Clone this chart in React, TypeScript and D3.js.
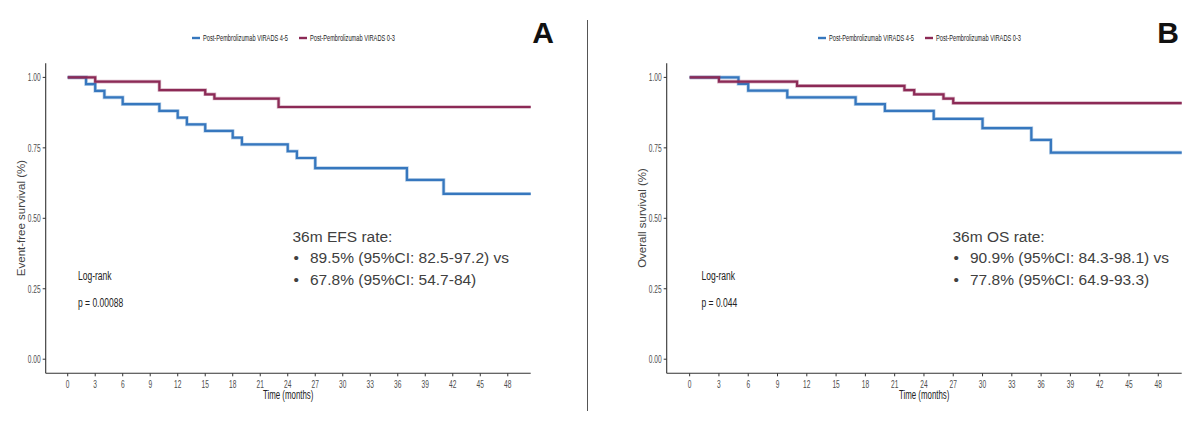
import React from "react";
import * as d3 from "d3";

// Kaplan-Meier estimates, step times in months
const efsHighTimes = [0, 2, 3, 4, 6, 10, 12, 13, 15, 18, 19, 24, 25, 27, 37, 41];
const efsHighSurv = [1, 0.976, 0.952, 0.929, 0.905, 0.881, 0.857, 0.833, 0.81, 0.786, 0.762, 0.738, 0.714, 0.678, 0.636, 0.587];
const efsLowTimes = [0, 3, 10, 15, 16, 23];
const efsLowSurv = [1, 0.985, 0.955, 0.94, 0.925, 0.895];

const osHighTimes = [0, 5, 6, 10, 17, 20, 25, 30, 35, 37];
const osHighSurv = [1, 0.977, 0.953, 0.929, 0.905, 0.881, 0.853, 0.82, 0.778, 0.733];
const osLowTimes = [0, 3, 11, 22, 23, 26, 27];
const osLowSurv = [1, 0.985, 0.97, 0.955, 0.94, 0.925, 0.909];

const xTicks = [0, 3, 6, 9, 12, 15, 18, 21, 24, 27, 30, 33, 36, 39, 42, 45, 48];
const yTicks = [0, 0.25, 0.5, 0.75, 1];

const seriesNames = ["Post-Pembrolizumab VIRADS 4-5", "Post-Pembrolizumab VIRADS 0-3"];
const seriesColors = ["#3677BE", "#8C2A56"];

const efsRates = ["89.5% (95%CI: 82.5-97.2) vs", "67.8% (95%CI: 54.7-84)"];
const osRates = ["90.9% (95%CI: 84.3-98.1) vs", "77.8% (95%CI: 64.9-93.3)"];

const SQ = 0.63; // horizontal squeeze of the exported plot text
const FONT = "'Liberation Sans', Arial, sans-serif";

function SqText({ x, y, size, anchor = "start", fill = "#333", children }: any) {
  return (
    <g transform={`translate(${x},${y}) scale(${SQ},1)`}>
      <text textAnchor={anchor} fontSize={size} fill={fill} fontFamily={FONT}>
        {children}
      </text>
    </g>
  );
}

function Panel({ xr, xd, letter, letterX, legendX, yTitle, high, low, pval, rateTitle, rates, noteX, logX }: any) {
  const x = d3.scaleLinear().domain(xd).range(xr);
  const y = d3.scaleLinear().domain([-0.05, 1.05]).range([373.3, 63.3]);
  const step = d3
    .line<[number, number]>()
    .x((d) => x(d[0]))
    .y((d) => y(d[1]))
    .curve(d3.curveStepAfter);

  const pts = (t: number[], s: number[]) => {
    const p: [number, number][] = t.map((v, i) => [v, s[i]]);
    p.push([xd[1], s[s.length - 1]]);
    return p;
  };

  const curves = [pts(high[0], high[1]), pts(low[0], low[1])];
  const x0 = xr[0];
  const mid = (xr[0] + xr[1]) / 2;

  return (
    <g>
      {/* legend */}
      {seriesNames.map((n, i) => {
        const lx = legendX + i * 107;
        return (
          <g key={n}>
            <line x1={lx} x2={lx + 8} y1={38} y2={38} stroke={seriesColors[i]} strokeWidth={2.4} />
            <SqText x={lx + 11} y={41} size={9} fill="#222">{n}</SqText>
          </g>
        );
      })}
      <text x={letterX} y={43} textAnchor="middle" fontSize={30} fontWeight="bold" fontFamily={FONT} fill="#111">
        {letter}
      </text>

      {/* axes */}
      <line x1={x0} x2={x0} y1={63.3} y2={373.3} stroke="#333" strokeWidth={1.1} />
      <line x1={x0} x2={xr[1]} y1={373.3} y2={373.3} stroke="#333" strokeWidth={1.1} />
      {yTicks.map((t) => (
        <g key={t}>
          <line x1={x0 - 3} x2={x0} y1={y(t)} y2={y(t)} stroke="#333" />
          <SqText x={x0 - 5} y={y(t) + 3.8} size={10.5} anchor="end" fill="#4d4d4d">
            {t.toFixed(2)}
          </SqText>
        </g>
      ))}
      {xTicks.map((t) => (
        <g key={t}>
          <line x1={x(t)} x2={x(t)} y1={373.3} y2={376.3} stroke="#333" />
          <SqText x={x(t)} y={387.5} size={10.5} anchor="middle" fill="#4d4d4d">
            {t}
          </SqText>
        </g>
      ))}
      <SqText x={mid} y={399} size={12.5} anchor="middle" fill="#222">Time (months)</SqText>
      <text
        transform={`translate(${x0 - 21},218) rotate(-90)`}
        textAnchor="middle"
        fontSize={11.5}
        fontFamily={FONT}
        fill="#444"
      >
        {yTitle}
      </text>

      {/* survival curves */}
      {curves.map((c, i) => (
        <g key={i}>
          <path d={step(c) || ""} fill="none" stroke={seriesColors[i]} strokeOpacity={0.35} strokeWidth={3.6} />
          <path d={step(c) || ""} fill="none" stroke={seriesColors[i]} strokeWidth={2.2} />
        </g>
      ))}

      {/* log-rank test */}
      <SqText x={logX} y={280} size={13.5} fill="#222">Log-rank</SqText>
      <SqText x={logX} y={307} size={13.5} fill="#222">{pval}</SqText>

      {/* 36-month rates */}
      <g fontFamily={FONT} fontSize={15.5} fill="#404040">
        <text x={noteX} y={241.5}>{rateTitle}</text>
        {rates.map((r: string, i: number) => (
          <g key={r}>
            <text x={noteX + 1} y={263 + i * 22}>•</text>
            <text x={noteX + 17.5} y={263 + i * 22}>{r}</text>
          </g>
        ))}
      </g>
    </g>
  );
}

export default function App() {
  return (
    <svg width={1200} height={422} style={{ position: "absolute", left: 0, top: 0, background: "white" }}>
      <rect width={1200} height={422} fill="white" />
      <Panel
        xr={[45.7, 530.7]}
        xd={[-2.4, 50.5]}
        letter="A"
        letterX={543}
        legendX={192}
        yTitle="Event-free survival (%)"
        high={[efsHighTimes, efsHighSurv]}
        low={[efsLowTimes, efsLowSurv]}
        pval="p = 0.00088"
        rateTitle="36m EFS rate:"
        rates={efsRates}
        noteX={292.5}
        logX={78}
      />
      <line x1={587.5} x2={587.5} y1={20} y2={411} stroke="#555" strokeWidth={1} />
      <Panel
        xr={[666.7, 1181.7]}
        xd={[-2.35, 50.4]}
        letter="B"
        letterX={1168}
        legendX={818}
        yTitle="Overall survival (%)"
        high={[osHighTimes, osHighSurv]}
        low={[osLowTimes, osLowSurv]}
        pval="p = 0.044"
        rateTitle="36m OS rate:"
        rates={osRates}
        noteX={952.5}
        logX={701.5}
      />
    </svg>
  );
}
